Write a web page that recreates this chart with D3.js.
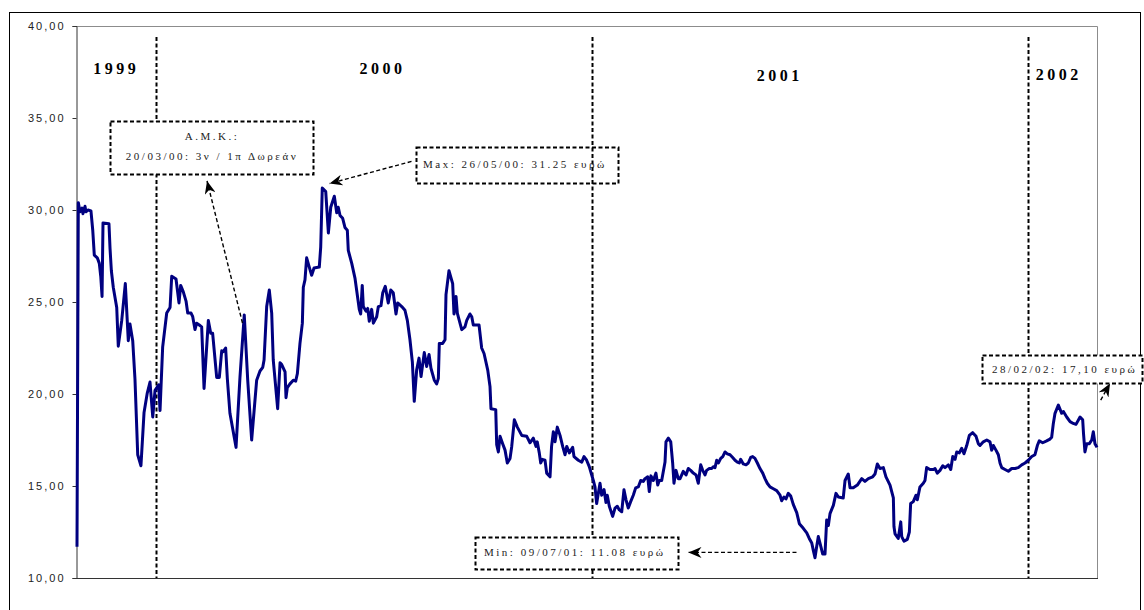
<!DOCTYPE html>
<html>
<head>
<meta charset="utf-8">
<script src="https://d3js.org/d3.v7.min.js"></script>
<style>
  body { margin: 0; background: #fff; }
  svg { display: block; }
</style>
</head>
<body>
<div id="chart"></div>
<script>
// DATA
// days counted from 27/10/1999, closing price in euro
var startDate = Date.UTC(1999, 9, 27);
var lastDay = 855;

var dayOffsets = [
  0, 1.1, 2.5, 4.2, 5.0, 6.7, 7.5, 9.2, 11.7, 13.2, 14.5, 17.0, 18.7, 19.9, 21.0, 21.8, 26.8, 27.7, 28.8, 30.4,
  33.3, 34.6, 37.5, 40.5, 43.0, 44.4, 46.7, 48.6, 50.9, 53.6, 56.2, 58.9, 61.2, 63.5, 65.4, 68.5, 69.6, 71.8, 75.2, 78.0,
  79.4, 83.0, 85.5, 86.9, 89.1, 91.4, 92.8, 95.6, 97.0, 98.9, 100.3, 102.5, 104.5, 106.5, 110.1, 112.1, 113.7, 117.1, 119.3, 121.3,
  122.6, 124.6, 126.0, 128.2, 133.3, 136.6, 140.2, 143.1, 146.4, 150.6, 153.4, 155.7, 156.8, 159.0, 161.2, 163.2, 164.5, 168.2, 170.2, 171.6,
  174.4, 175.2, 176.3, 178.5, 181.3, 183.3, 184.7, 186.9, 188.9, 189.7, 191.1, 192.5, 194.7, 196.7, 198.7, 203.1, 204.3, 205.6, 208.5, 210.7,
  212.7, 215.7, 217.7, 219.0, 220.5, 222.7, 224.6, 226.6, 227.4, 230.3, 233.0, 234.5, 236.6, 237.8, 239.1, 240.0, 242.3, 243.7, 245.0, 247.0,
  248.4, 251.2, 252.6, 254.8, 256.3, 258.4, 260.9, 263.0, 265.1, 267.4, 268.8, 272.2, 274.9, 276.9, 279.1, 281.1, 282.7, 284.7, 286.7, 288.4,
  291.1, 293.1, 295.1, 296.7, 299.5, 301.5, 302.9, 303.7, 306.5, 308.5, 309.3, 311.8, 314.9, 316.0, 317.7, 318.8, 322.5, 325.2, 326.7, 329.4,
  330.9, 332.2, 337.0, 339.2, 341.2, 344.3, 346.2, 347.0, 351.0, 351.8, 353.2, 354.6, 356.8, 358.8, 360.7, 363.0, 364.4, 366.6, 369.1, 372.8,
  377.0, 379.7, 382.5, 384.8, 385.8, 387.5, 388.7, 390.0, 392.3, 393.7, 396.5, 397.8, 399.3, 400.7, 402.6, 404.9, 407.1, 409.1, 410.5, 412.7,
  415.5, 416.6, 420.2, 423.1, 425.0, 427.2, 429.4, 432.8, 434.2, 435.6, 437.0, 438.4, 439.8, 441.8, 443.4, 444.5, 446.2, 449.0, 451.0, 452.9,
  454.6, 456.6, 458.5, 460.2, 462.1, 464.1, 466.3, 468.3, 470.5, 472.5, 474.7, 476.1, 478.4, 479.7, 481.1, 483.1, 485.3, 486.8, 488.1, 490.1,
  491.5, 492.9, 493.7, 495.7, 497.7, 499.3, 500.4, 502.1, 504.0, 505.5, 508.2, 510.5, 512.4, 514.4, 516.6, 518.9, 520.8, 522.8, 524.5, 526.4,
  527.8, 530.0, 532.0, 533.4, 534.8, 536.2, 537.6, 539.6, 541.3, 543.2, 545.1, 547.4, 549.6, 551.6, 553.5, 555.2, 556.3, 558.5, 560.8, 562.7,
  564.7, 566.4, 568.3, 570.3, 572.5, 574.8, 576.7, 578.6, 580.9, 583.7, 586.5, 589.3, 590.7, 592.6, 594.3, 596.2, 598.3, 600.4, 603.3, 605.5,
  608.8, 611.7, 613.8, 615.9, 617.2, 618.6, 620.0, 621.4, 622.8, 625.1, 627.0, 628.4, 629.8, 631.2, 634.0, 636.2, 638.2, 642.3, 643.8, 646.5,
  648.0, 650.7, 654.1, 657.8, 660.5, 663.3, 667.0, 668.9, 670.9, 673.1, 675.9, 678.1, 681.5, 684.3, 684.8, 685.7, 688.4, 690.5, 691.3, 693.2,
  696.0, 697.7, 698.8, 701.0, 703.3, 704.4, 706.6, 709.4, 710.8, 712.2, 715.0, 717.8, 719.2, 721.1, 723.4, 725.7, 727.6, 730.4, 732.4, 734.1,
  736.0, 737.4, 739.6, 741.6, 743.5, 745.8, 748.0, 750.8, 753.6, 755.5, 756.9, 759.7, 762.6, 765.3, 766.7, 768.1, 770.3, 772.3, 773.7, 775.1,
  777.9, 780.7, 783.5, 786.3, 789.0, 791.9, 794.7, 797.4, 800.3, 803.0, 805.0, 806.6, 809.5, 812.8, 815.6, 817.0, 818.4, 819.8, 822.6, 825.4,
  826.8, 829.6, 832.4, 835.1, 837.4, 840.8, 843.0, 843.7, 844.9, 846.4, 848.6, 850.6, 851.9, 853.3, 855.0
];

var prices = [
  11.7, 30.4, 29.9, 30.1, 29.8, 30.2, 29.9, 30.0, 29.95, 28.9, 27.55, 27.4, 27.1, 26.4, 25.3, 29.3, 29.25, 27.9, 26.7, 25.8,
  24.7, 22.6, 24.0, 26.0, 22.9, 23.8, 22.9, 20.8, 16.7, 16.1, 19.0, 20.05, 20.65, 18.75, 20.2, 20.5, 19.1, 22.55, 24.4, 24.7,
  26.4, 26.25, 24.95, 25.9, 25.55, 25.05, 24.4, 24.4, 24.2, 23.5, 23.85, 23.75, 23.65, 20.3, 24.0, 23.3, 23.3, 20.9, 20.9, 22.35,
  22.3, 22.5, 20.85, 18.95, 17.1, 20.9, 24.3, 20.75, 17.5, 20.75, 21.25, 21.45, 21.85, 24.75, 25.65, 24.4, 21.85, 19.2, 21.7, 21.6,
  21.2, 19.8, 20.35, 20.55, 20.75, 20.7, 21.1, 22.75, 23.85, 25.8, 26.2, 27.4, 26.9, 26.45, 26.85, 26.9, 28.0, 31.2, 31.0, 28.75,
  30.15, 30.75, 29.85, 30.15, 29.7, 29.55, 29.05, 28.9, 27.8, 27.1, 26.3, 25.6, 24.6, 24.35, 25.9, 24.75, 24.5, 24.65, 23.95, 24.6,
  23.85, 24.2, 24.75, 24.8, 25.5, 25.85, 24.95, 25.65, 25.5, 24.35, 24.95, 24.75, 24.55, 24.0, 22.95, 21.75, 19.6, 21.3, 21.95, 20.95,
  22.25, 21.5, 22.15, 21.4, 20.75, 20.55, 20.85, 22.75, 22.75, 22.95, 25.4, 26.7, 26.0, 24.35, 25.3, 24.4, 23.5, 23.65, 24.0, 24.35,
  24.2, 23.75, 23.75, 22.5, 22.2, 21.3, 20.4, 19.2, 19.15, 17.25, 16.85, 17.7, 17.3, 16.95, 16.25, 16.5, 17.15, 18.6, 18.2, 17.75,
  17.7, 17.35, 17.6, 17.15, 17.4, 16.8, 16.25, 16.45, 16.4, 15.7, 15.5, 17.15, 17.95, 17.4, 18.2, 17.75, 17.15, 16.7, 17.15, 16.8,
  17.1, 16.6, 16.4, 16.3, 16.6, 16.4, 16.05, 15.3, 14.95, 14.05, 14.6, 15.15, 14.5, 14.8, 14.1, 14.5, 13.9, 13.35, 13.8, 13.9,
  13.7, 13.6, 14.8, 14.25, 13.8, 14.15, 14.5, 14.9, 14.95, 15.3, 15.25, 15.4, 15.5, 14.7, 15.55, 15.3, 15.7, 15.05, 15.3, 15.3,
  15.8, 16.3, 17.4, 17.6, 17.4, 16.25, 15.15, 15.85, 15.4, 15.4, 15.8, 15.6, 15.95, 15.85, 15.7, 15.6, 15.15, 16.15, 15.85, 15.6,
  15.85, 15.95, 15.95, 16.05, 16.0, 16.4, 16.25, 16.5, 16.6, 16.85, 16.75, 16.7, 16.55, 16.4, 16.3, 16.25, 16.45, 16.2, 16.15, 16.25,
  16.55, 16.6, 16.5, 16.25, 15.95, 15.7, 15.4, 15.15, 14.95, 14.85, 14.75, 14.5, 14.2, 14.4, 14.3, 14.6, 14.45, 14.0, 13.55, 12.95,
  12.7, 12.45, 12.15, 11.9, 11.5, 11.1, 11.7, 12.25, 11.9, 11.3, 11.3, 13.15, 12.85, 13.5, 13.95, 14.6, 14.4, 14.35, 15.3, 15.65,
  14.9, 14.9, 15.05, 15.4, 15.25, 15.4, 15.5, 15.65, 16.2, 15.95, 16.0, 15.5, 15.05, 14.35, 12.8, 12.4, 12.15, 13.05, 12.25, 12.0,
  12.1, 12.5, 14.05, 14.15, 14.5, 14.25, 14.95, 15.15, 15.3, 16.0, 15.9, 15.9, 15.95, 15.7, 15.85, 16.1, 16.0, 16.15, 15.9, 16.6,
  16.45, 16.85, 16.8, 17.05, 16.75, 17.2, 17.75, 17.9, 17.7, 17.3, 17.2, 17.4, 17.5, 17.4, 16.95, 17.2, 16.95, 16.7, 16.25, 16.0,
  15.9, 15.8, 15.95, 15.95, 16.0, 16.15, 16.25, 16.4, 16.6, 16.7, 17.2, 17.45, 17.35, 17.45, 17.55, 17.65, 18.4, 18.95, 19.4, 18.95,
  19.05, 18.75, 18.5, 18.4, 18.35, 18.75, 18.6, 17.85, 16.85, 17.3, 17.3, 17.5, 17.95, 17.3, 17.1
];

var yTicks = [10, 15, 20, 25, 30, 35, 40];

var yearNames = ['1999', '2000', '2001', '2002'];
var yearLabelDays = [33, 256, 589, 823];
var yearBreaks = ['2000-01-01', '2001-01-01', '2002-01-01'];

var noteLines = [
  ['Α.Μ.Κ.:', '20/03/00: 3ν / 1π Δωρεάν'],
  ['Max: 26/05/00: 31.25 ευρώ'],
  ['Min: 09/07/01: 11.08 ευρώ'],
  ['28/02/02: 17,10 ευρώ']
];
// arrows: [fromDay, fromPrice, toDay, toPrice]
var noteArrows = [
  [138.7, 23.86, 109.0, 31.58],
  [280.4, 32.64, 211.7, 31.44],
  [603.1, 11.39, 512.6, 11.39],
  [858.1, 19.67, 865.9, 20.57]
];

// LAYOUT
var width = 1144, height = 610;
var plot = { left: 76, top: 26, right: 1097, bottom: 578 };
var yearLabelY = [74, 74, 81, 80];
var noteBoxes = [
  { x: 110, y: 121, w: 203, h: 53, fill: '#fff', anchor: 'middle', tx: 212, ty: [140, 160] },
  { x: 416, y: 147, w: 202, h: 36, fill: 'none', anchor: 'start', tx: 423, ty: [168] },
  { x: 475, y: 537, w: 203, h: 32, fill: '#fff', anchor: 'start', tx: 484, ty: [556] },
  { x: 982, y: 355, w: 160, h: 28, fill: '#fff', anchor: 'start', tx: 992, ty: [373] }
];

function dayToDate(d) { return new Date(startDate + d * 864e5); }

var svg = d3.select('#chart')
  .append('svg')
  .attr('width', width)
  .attr('height', height);

svg.append('rect')
  .attr('width', width).attr('height', height)
  .attr('fill', '#fff');

// outer frame
svg.append('rect')
  .attr('x', 9.5).attr('y', 12.5)
  .attr('width', 1131).attr('height', 620)
  .attr('fill', 'none')
  .attr('stroke', '#000')
  .attr('stroke-width', 1);

var x = d3.scaleUtc()
  .domain([dayToDate(0), dayToDate(lastDay)])
  .range([plot.left + 1, plot.right]);

var y = d3.scaleLinear()
  .domain([10, 40])
  .range([plot.bottom, plot.top]);

// plot area border (top & right grey)
svg.append('path')
  .attr('d', 'M' + plot.left + ',' + (plot.top + 0.5) + 'H' + (plot.right + 0.5) + 'V' + plot.bottom)
  .attr('fill', 'none')
  .attr('stroke', '#8c8c8c')
  .attr('stroke-width', 1);

// y axis
var yAxis = svg.append('g')
  .attr('transform', 'translate(' + (plot.left + 0.5) + ',0)')
  .call(d3.axisLeft(y)
    .tickValues(yTicks)
    .tickSize(4)
    .tickPadding(7)
    .tickFormat(function(d) { return d3.format('.2f')(d).replace('.', ','); }));
yAxis.select('.domain').attr('stroke', '#333');
yAxis.selectAll('line').attr('stroke', '#333');
yAxis.selectAll('text')
  .attr('fill', '#222')
  .style('font-family', '"Liberation Sans", Arial, sans-serif')
  .style('font-size', '11px')
  .style('letter-spacing', '2px');

// x axis line only
svg.append('line')
  .attr('x1', plot.left).attr('x2', plot.right + 1)
  .attr('y1', plot.bottom + 0.5).attr('y2', plot.bottom + 0.5)
  .attr('stroke', '#333');

// year separators
svg.selectAll('.yearline')
  .data(yearBreaks)
  .enter()
  .append('line')
  .attr('class', 'yearline')
  .attr('x1', function(d) { return Math.round(x(new Date(d + 'T00:00:00Z'))) + 0.5; })
  .attr('x2', function(d) { return Math.round(x(new Date(d + 'T00:00:00Z'))) + 0.5; })
  .attr('y1', y(39.4))
  .attr('y2', plot.bottom)
  .attr('stroke', '#000')
  .attr('stroke-width', 2)
  .attr('stroke-dasharray', '4,2.5');

// year labels
svg.selectAll('.year')
  .data(yearNames)
  .enter()
  .append('text')
  .attr('class', 'year')
  .attr('x', function(d, i) { return x(dayToDate(yearLabelDays[i])); })
  .attr('y', function(d, i) { return yearLabelY[i]; })
  .attr('text-anchor', 'middle')
  .style('font-family', '"Liberation Serif", "Times New Roman", serif')
  .style('font-weight', 'bold')
  .style('font-size', '16px')
  .style('letter-spacing', '3.5px')
  .text(function(d) { return d; });

// price line
var line = d3.line()
  .x(function(d, i) { return x(dayToDate(dayOffsets[i])); })
  .y(function(d) { return y(d); });

svg.append('path')
  .datum(prices)
  .attr('d', line)
  .attr('fill', 'none')
  .attr('stroke', '#000080')
  .attr('stroke-width', 3)
  .attr('stroke-linejoin', 'round');

// arrow head
svg.append('defs').append('marker')
  .attr('id', 'head')
  .attr('viewBox', '0 0 13 11')
  .attr('refX', 13).attr('refY', 5.5)
  .attr('markerWidth', 13).attr('markerHeight', 11)
  .attr('markerUnits', 'userSpaceOnUse')
  .attr('orient', 'auto')
  .append('path')
  .attr('d', 'M0,0 L13,5.5 L0,11 L4,5.5 Z')
  .attr('fill', '#000');

svg.selectAll('.arrow')
  .data(noteArrows)
  .enter()
  .append('line')
  .attr('class', 'arrow')
  .attr('x1', function(d) { return x(dayToDate(d[0])); })
  .attr('y1', function(d) { return y(d[1]); })
  .attr('x2', function(d) { return x(dayToDate(d[2])); })
  .attr('y2', function(d) { return y(d[3]); })
  .attr('stroke', '#000')
  .attr('stroke-width', 1.4)
  .attr('stroke-dasharray', '4,2.5')
  .attr('marker-end', 'url(#head)');

// text boxes
var notes = svg.selectAll('.note')
  .data(noteLines)
  .enter()
  .append('g')
  .attr('class', 'note');

notes.append('rect')
  .attr('x', function(d, i) { return noteBoxes[i].x + 0.5; })
  .attr('y', function(d, i) { return noteBoxes[i].y + 0.5; })
  .attr('width', function(d, i) { return noteBoxes[i].w; })
  .attr('height', function(d, i) { return noteBoxes[i].h; })
  .attr('fill', function(d, i) { return noteBoxes[i].fill; })
  .attr('stroke', '#000')
  .attr('stroke-width', 2)
  .attr('stroke-dasharray', '4,2.5');

notes.each(function(d, i) {
  var b = noteBoxes[i];
  d3.select(this).selectAll('text')
    .data(d)
    .enter()
    .append('text')
    .attr('x', b.tx)
    .attr('y', function(t, j) { return b.ty[j]; })
    .attr('text-anchor', b.anchor)
    .attr('fill', '#222')
    .style('font-family', '"Liberation Serif", "Times New Roman", serif')
    .style('font-size', '11px')
    .style('letter-spacing', '2.5px')
    .text(function(t) { return t; });
});
</script>
</body>
</html>
